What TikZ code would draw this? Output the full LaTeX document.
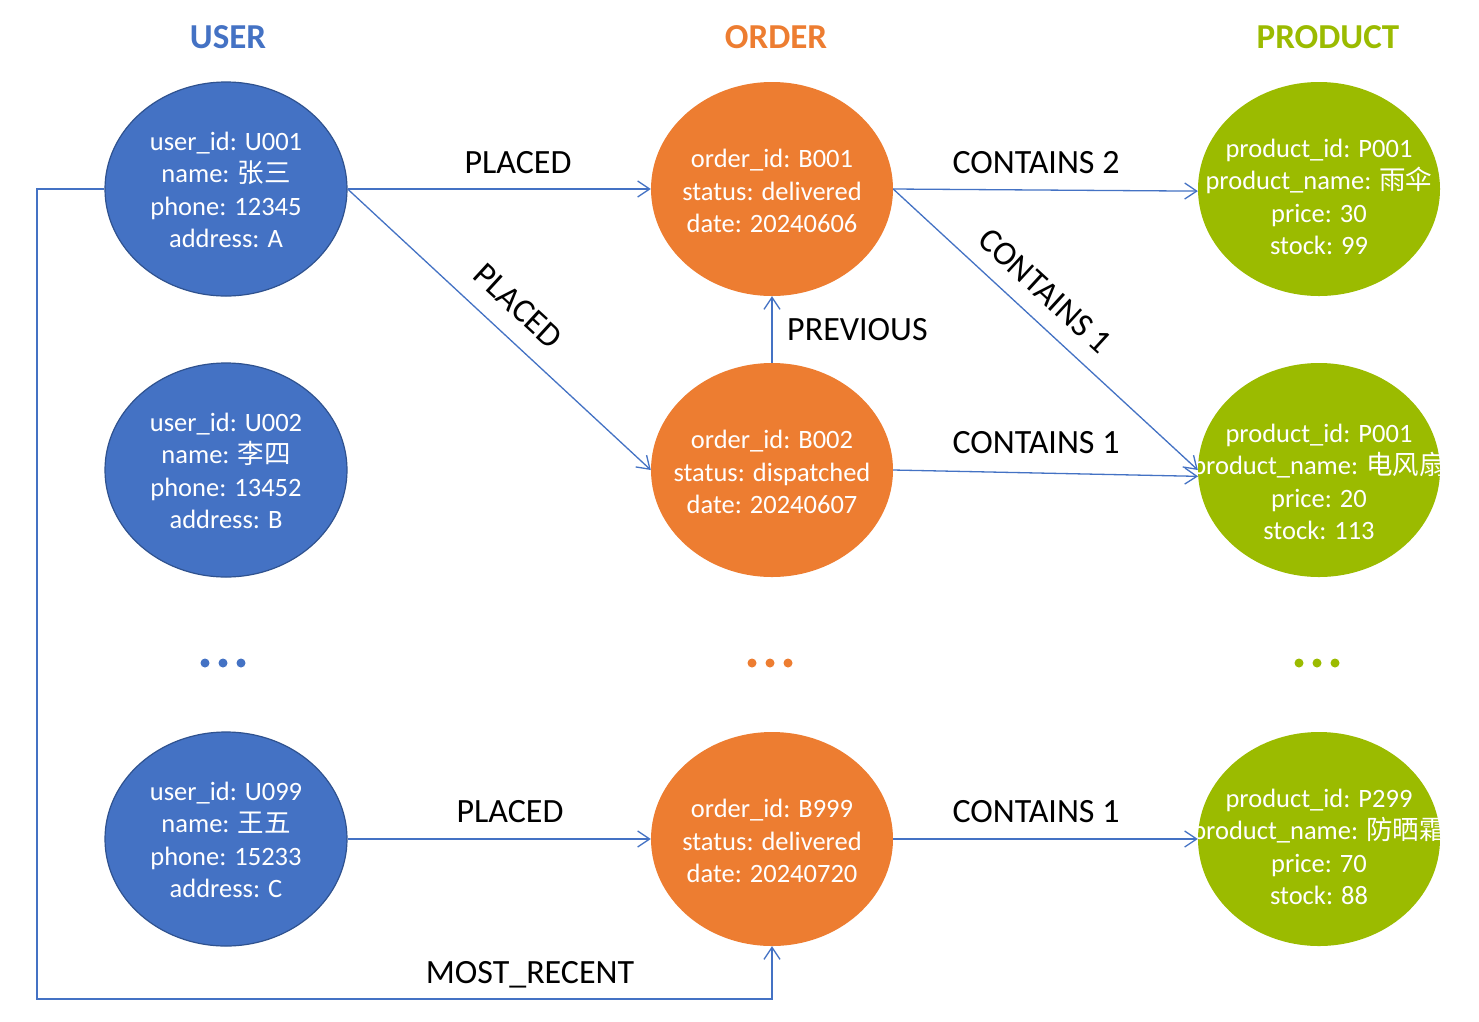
\documentclass[tikz,border=0pt]{standalone}
\usepackage{fontspec}
\setmainfont{Carlito}
\newfontfamily\cjk{Noto Sans CJK SC}
\usetikzlibrary{arrows.meta,shapes.geometric}
\definecolor{ublue}{HTML}{4472C4}
\definecolor{uborder}{HTML}{2F528F}
\definecolor{oorange}{HTML}{ED7D31}
\definecolor{pgreen}{HTML}{9BBB00}
\begin{document}
\begin{tikzpicture}[x=1pt,y=-1pt,
 ell/.style={ellipse, minimum width=242pt, minimum height=214pt, inner sep=0pt},
 unode/.style={ell, fill=ublue, draw=uborder, line width=1.2pt},
 onode/.style={ell, fill=oorange},
 pnode/.style={ell, fill=pgreen},
 ntext/.style={text=white, align=center, font=\fontsize{26.5}{32.5}\selectfont, inner sep=0pt},
 ttl/.style={font=\fontsize{35}{40}\selectfont\bfseries},
 elabel/.style={font=\fontsize{34}{40}\selectfont, text=black, inner sep=0pt},
 edge/.style={draw=ublue, line width=1.3pt, -{Straight Barb[length=12pt,width=16pt,line width=1.3pt]}},
 dot/.style={circle, inner sep=0pt, minimum size=9pt},
]
\useasboundingbox[fill=white] (0,0) rectangle (1479,1021);

% titles
\node[ttl, text=ublue] (tu) at (228,37) {USER};
\node[ttl, text=oorange] (to) at (776,37) {ORDER};
\node[ttl, text=pgreen] (tp) at (1328,37) {PRODUCT};

% user nodes
\node[unode] (u1) at (226,189) {};
\node[unode] (u2) at (226,470) {};
\node[unode] (u3) at (226,839) {};
% order nodes
\node[onode] (o1) at (772,189) {};
\node[onode] (o2) at (772,470) {};
\node[onode] (o3) at (772,839) {};
% product nodes
\node[pnode] (p1) at (1319,189) {};
\node[pnode] (p2) at (1319,470) {};
\node[pnode] (p3) at (1319,839) {};

% texts
\node[ntext] (u1t) at (226,190) {user\_id: U001\\name: {\cjk 张三}\\phone: 12345\\address: A};
\node[ntext] (u2t) at (226,471) {user\_id: U002\\name: {\cjk 李四}\\phone: 13452\\address: B};
\node[ntext] (u3t) at (226,840) {user\_id: U099\\name: {\cjk 王五}\\phone: 15233\\address: C};
\node[ntext] (o1t) at (772,191) {order\_id: B001\\status: delivered\\date: 20240606};
\node[ntext] (o2t) at (772,472) {order\_id: B002\\status: dispatched\\date: 20240607};
\node[ntext] (o3t) at (772,841) {order\_id: B999\\status: delivered\\date: 20240720};
\node[ntext] (p1t) at (1319,197) {product\_id: P001\\product\_name: {\cjk 雨伞}\\price: 30\\stock: 99};
\node[ntext] (p2t) at (1319,482) {product\_id: P001\\product\_name: {\cjk 电风扇}\\price: 20\\stock: 113};
\node[ntext] (p3t) at (1319,847) {product\_id: P299\\product\_name: {\cjk 防晒霜}\\price: 70\\stock: 88};

% dots
\foreach \i/\x in {1/205,2/223,3/241} \node[dot, fill=ublue] (du\i) at (\x,663) {};
\foreach \i/\x in {1/752,2/770,3/788} \node[dot, fill=oorange] (do\i) at (\x,663) {};
\foreach \i/\x in {1/1299,2/1317,3/1335} \node[dot, fill=pgreen] (dp\i) at (\x,663) {};

% edges
\draw[edge] (u1.east) -- (o1.west);
\node[elabel] (l1) at (518,163) {PLACED};
\draw[edge] (u1.east) -- (o2.west);
\node[elabel, rotate=-42.5] (l2) at (518,306) {PLACED};
\draw[edge] (o1.east) -- (p1.181);
\node[elabel] (l3) at (1036,163) {CONTAINS 2};
\draw[edge] (o1.east) -- (p2.west);
\node[elabel, rotate=-42.5] (l4) at (1045,291) {CONTAINS 1};
\draw[edge] (o2.north) -- (o1.south);
\node[elabel, anchor=west] (l5) at (787,330) {PREVIOUS};
\draw[edge] (o2.east) -- (p2.183);
\node[elabel] (l6) at (1036,443) {CONTAINS 1};
\draw[edge] (u3.east) -- (o3.west);
\node[elabel] (l7) at (510,812) {PLACED};
\draw[edge] (o3.east) -- (p3.west);
\node[elabel] (l8) at (1036,812) {CONTAINS 1};
\coordinate (c1) at (37,999);
\draw[edge] (u1.west) -| (c1) -| (o3.south);
\node[elabel] (l9) at (530,975) {MOST\_RECENT};
\end{tikzpicture}
\end{document}
